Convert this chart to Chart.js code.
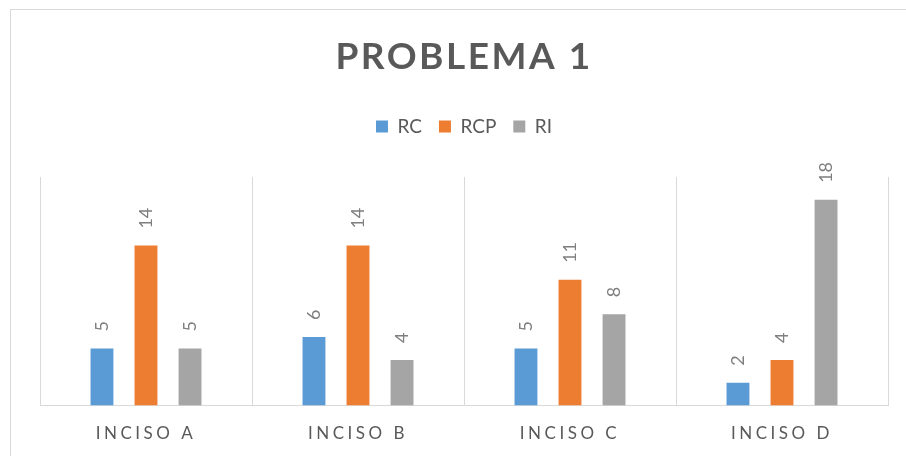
<!DOCTYPE html>
<html>
<head>
<meta charset="utf-8">
<script src="https://cdn.jsdelivr.net/npm/chart.js@4.4.1/dist/chart.umd.min.js"></script>
<style>
  html, body { margin: 0; padding: 0; background: #fff; }
</style>
</head>
<body>
<canvas id="chart" width="906" height="456"></canvas>
<script>
const categories = ["INCISO A", "INCISO B", "INCISO C", "INCISO D"];
const seriesNames = ["RC", "RCP", "RI"];
const rcValues = [5, 6, 5, 2];
const rcpValues = [14, 14, 11, 4];
const riValues = [5, 4, 8, 18];
const chartTitle = "PROBLEMA 1";

const FONT = "Lato";

// outer frame + title, drawn by hand so the letter spacing matches
const framePlugin = {
  id: "frame",
  beforeDraw(chart) {
    const ctx = chart.ctx;
    ctx.save();
    ctx.strokeStyle = "#d9d9d9";
    ctx.lineWidth = 1;
    ctx.strokeRect(10.5, 9.5, 1000, 1000);
    ctx.restore();

    // spaced tick labels on the x axis
    const sx = chart.scales.x;
    if (!sx._spaced) {
      const orig = sx.drawLabels;
      sx.drawLabels = function (area) {
        this.ctx.save();
        this.ctx.letterSpacing = "3.5px";
        orig.call(this, area);
        this.ctx.restore();
      };
      sx._spaced = true;
    }
  },
  afterDraw(chart) {
    const ctx = chart.ctx;
    const area = chart.chartArea;
    ctx.save();
    ctx.font = "bold 37px " + FONT;
    ctx.letterSpacing = "2.5px";
    ctx.fillStyle = "#595959";
    ctx.textAlign = "left";
    ctx.textBaseline = "middle";
    const w = ctx.measureText(chartTitle).width;
    ctx.fillText(chartTitle, (area.left + area.right) / 2 - w / 2, 57);
    ctx.restore();
  }
};

// rotated value labels above each bar
const valueLabels = {
  id: "valueLabels",
  afterDatasetsDraw(chart) {
    const ctx = chart.ctx;
    ctx.save();
    ctx.font = "18px " + FONT;
    ctx.fillStyle = "#7f7f7f";
    ctx.textAlign = "left";
    ctx.textBaseline = "middle";
    chart.data.datasets.forEach((ds, i) => {
      chart.getDatasetMeta(i).data.forEach((bar, j) => {
        ctx.save();
        ctx.translate(bar.x, bar.y - 17);
        ctx.rotate(-Math.PI / 2);
        ctx.fillText(String(ds.data[j]), 0, 0);
        ctx.restore();
      });
    });
    ctx.restore();
  }
};

// extra room between legend and plot
const legendGap = {
  id: "legendGap",
  beforeInit(chart) {
    const fit = chart.legend.fit;
    chart.legend.fit = function () {
      fit.bind(chart.legend)();
      this.height += 31;
    };
  }
};

const ctx = document.getElementById("chart").getContext("2d");
const chart = new Chart(ctx, {
  type: "bar",
  data: {
    labels: categories,
    datasets: [
      { label: seriesNames[0], data: rcValues, backgroundColor: "#5b9bd5" },
      { label: seriesNames[1], data: rcpValues, backgroundColor: "#ed7d31" },
      { label: seriesNames[2], data: riValues, backgroundColor: "#a5a5a5" }
    ]
  },
  options: {
    responsive: false,
    animation: false,
    devicePixelRatio: 1,
    categoryPercentage: 0.623,
    barPercentage: 0.52,
    layout: {
      padding: { top: 100, left: 40, right: 18, bottom: -6 }
    },
    scales: {
      x: {
        grid: { color: "#d9d9d9", drawTicks: false, offset: true },
        border: { display: true, color: "#d9d9d9" },
        ticks: {
          color: "#595959",
          padding: 18,
          font: { family: FONT, size: 17 }
        }
      },
      y: {
        display: false,
        min: 0,
        max: 20
      }
    },
    plugins: {
      title: { display: false },
      tooltip: { enabled: false },
      legend: {
        position: "top",
        labels: {
          color: "#595959",
          boxWidth: 12,
          boxHeight: 12,
          padding: 17,
          font: { family: FONT, size: 19 }
        }
      }
    }
  },
  plugins: [framePlugin, valueLabels, legendGap]
});
</script>
</body>
</html>
